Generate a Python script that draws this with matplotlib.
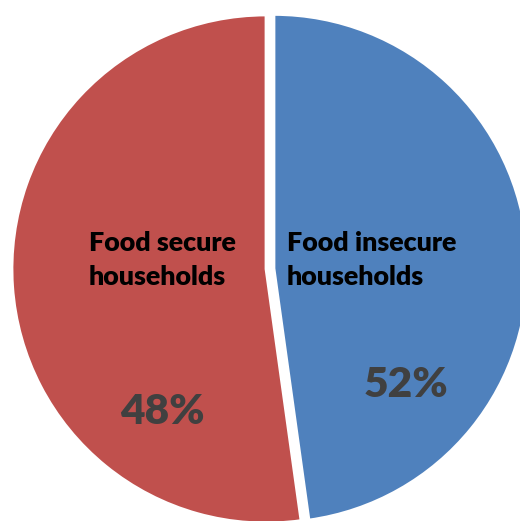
import matplotlib
matplotlib.use("Agg")
import matplotlib.pyplot as plt

categories = ["Food insecure\nhouseholds", "Food secure\nhouseholds"]
shares = [47.8, 52.2]          # slice sizes as drawn in the picture
pct_labels = ["52%", "48%"]    # labels printed on the chart
colors = ["#4F81BD", "#C0504D"]

W, H = 520, 521
fig = plt.figure(figsize=(W / 100, H / 100), dpi=100)
ax = fig.add_axes([0, 0, 1, 1])

cx, cy, r = 266, H - 269, 254
ax.pie(shares, colors=colors, startangle=90, counterclock=False,
       center=(cx, cy), radius=r, explode=[8, 0],
       wedgeprops=dict(edgecolor="white", linewidth=2))

ax.set_xlim(0, W)
ax.set_ylim(0, H)
ax.set_aspect("equal")
ax.axis("off")

font = ["Lato", "DejaVu Sans"]
# category labels
ax.text(287, H - 260, categories[0], ha="left", va="center", fontsize=19.4,
        fontweight="heavy", family=font, color="black", linespacing=1.48)
ax.text(89, H - 260, categories[1], ha="left", va="center", fontsize=19.4,
        fontweight="heavy", family=font, color="black", linespacing=1.48)
# percentages
ax.text(406, H - 385, pct_labels[0], ha="center", va="center", fontsize=30.5,
        fontweight="heavy", family=font, color="#404040")
ax.text(162, H - 412, pct_labels[1], ha="center", va="center", fontsize=30.5,
        fontweight="heavy", family=font, color="#404040")

fig.savefig("out.png", dpi=100)
